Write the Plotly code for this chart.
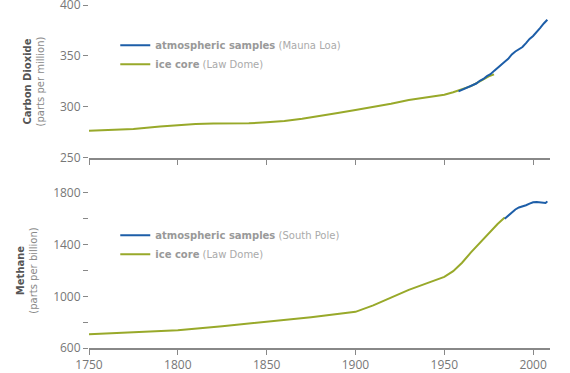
import plotly.graph_objects as go

# CO2 (ppm)
co2_ice_years = [1750, 1760, 1775, 1790, 1800, 1810, 1820, 1830, 1840, 1850, 1860, 1870, 1880, 1890, 1900,
                 1910, 1920, 1930, 1940, 1950, 1955, 1960, 1965, 1970, 1975, 1978]
co2_ice_vals = [276.6, 277.2, 278.5, 280.8, 282.3, 283.3, 283.8, 284.0, 284.0, 285.0, 286.3, 288.5, 291.0,
                294.0, 297.0, 300.0, 303.2, 306.8, 309.5, 312.0, 314.5, 317.5, 320.5, 325.0, 330.0, 332.0]
co2_ml_years = [1958, 1960, 1962, 1964, 1966, 1968, 1970, 1972, 1974, 1976, 1978, 1980, 1982, 1984, 1986,
                1988, 1990, 1992, 1994, 1996, 1998, 2000, 2002, 2004, 2006, 2008]
co2_ml_vals = [315.3, 316.9, 318.4, 319.6, 321.4, 323.0, 325.7, 327.5, 330.2, 332.1, 335.4, 338.7, 341.1,
               344.4, 347.2, 351.6, 354.4, 356.4, 358.8, 362.6, 366.7, 369.6, 373.2, 377.5, 381.9, 385.6]

# Methane (ppb)
ch4_ice_years = [1750, 1775, 1800, 1825, 1850, 1875, 1900, 1910, 1920, 1930, 1940, 1950, 1955, 1960, 1965,
                 1970, 1975, 1980, 1984]
ch4_ice_vals = [707, 722, 738, 768, 803, 838, 880, 930, 990, 1050, 1100, 1151, 1195, 1260, 1340,
                1415, 1490, 1560, 1610]
ch4_sp_years = [1984, 1986, 1988, 1990, 1992, 1994, 1996, 1998, 2000, 2002, 2004, 2006, 2007, 2008]
ch4_sp_vals = [1600, 1625, 1650, 1672, 1688, 1694, 1705, 1718, 1728, 1730, 1729, 1728, 1722, 1735]

x_ticks = [1750, 1800, 1850, 1900, 1950, 2000]
co2_ticks = [250, 300, 350, 400]
ch4_ticks = [600, 800, 1000, 1200, 1400, 1600, 1800]
ch4_tick_text = ["600", "", "1000", "", "1400", "", "1800"]

BLUE = "#1d5ea8"
GREEN = "#98a92a"
FONT = "Open Sans"

fig = go.Figure()

def leg(bold, light):
    return f"<b>{bold}</b> <span style='color:#aaaaaa'>{light}</span>"

fig.add_trace(go.Scatter(x=co2_ice_years, y=co2_ice_vals, mode="lines", line=dict(color=GREEN, width=2),
                         name=leg("ice core", "(Law Dome)"), xaxis="x", yaxis="y", legend="legend"))
fig.add_trace(go.Scatter(x=co2_ml_years, y=co2_ml_vals, mode="lines", line=dict(color=BLUE, width=2),
                         name=leg("atmospheric samples", "(Mauna Loa)"), xaxis="x", yaxis="y", legend="legend"))
fig.add_trace(go.Scatter(x=ch4_ice_years, y=ch4_ice_vals, mode="lines", line=dict(color=GREEN, width=2),
                         name=leg("ice core", "(Law Dome)"), xaxis="x2", yaxis="y2", legend="legend2"))
fig.add_trace(go.Scatter(x=ch4_sp_years, y=ch4_sp_vals, mode="lines", line=dict(color=BLUE, width=2),
                         name=leg("atmospheric samples", "(South Pole)"), xaxis="x2", yaxis="y2", legend="legend2"))

axis_common = dict(showgrid=False, zeroline=False, ticks="outside", ticklen=5, tickcolor="#888888",
                   automargin=False, ticklabeloverflow="allow",
                   tickfont=dict(family=FONT, size=12, color="#777777"))

legend_common = dict(font=dict(family="DejaVu Sans", size=10, color="#999999"), bgcolor="rgba(0,0,0,0)",
                     traceorder="reversed", tracegroupgap=0, itemwidth=30, xanchor="left", yanchor="top")

fig.update_layout(
    width=570, height=373,
    margin=dict(l=89, r=20, t=5, b=25, autoexpand=False),
    plot_bgcolor="white", paper_bgcolor="white",
    showlegend=True,
    xaxis=dict(range=[1750, 2009.5], domain=[0, 1], anchor="y", tickvals=x_ticks, showticklabels=False,
               showline=True, linecolor="#888888", linewidth=1.5, **axis_common),
    yaxis=dict(range=[250, 400], domain=[0.554, 1], anchor="x", tickvals=co2_ticks, showline=False,
               title=dict(text="<b>Carbon Dioxide</b><br><span style='color:#888888'>(parts per million)</span>",
                          font=dict(family="DejaVu Sans", size=10, color="#555555"), standoff=13),
               **axis_common),
    xaxis2=dict(range=[1750, 2009.5], domain=[0, 1], anchor="y2", tickvals=x_ticks, showline=True,
                linecolor="#888888", linewidth=1.5, **axis_common),
    yaxis2=dict(range=[600, 1800], domain=[0, 0.452], anchor="x2", tickvals=ch4_ticks, ticktext=ch4_tick_text,
                showline=False,
                title=dict(text="<b>Methane</b><br><span style='color:#888888'>(parts per billion)</span>",
                           font=dict(family="DejaVu Sans", size=10, color="#555555"), standoff=13),
                **axis_common),
    legend=dict(x=0.057, y=0.925, **legend_common),
    legend2=dict(x=0.057, y=0.371, **legend_common),
)

fig.add_annotation(text="Year", xref="paper", yref="paper", x=0.46, y=-0.065, yanchor="top", showarrow=False,
                   font=dict(family=FONT, size=12, color="#777777"))

fig.write_html("out.html", config={"displayModeBar": False},
               post_script="document.body.style.margin='0';")
